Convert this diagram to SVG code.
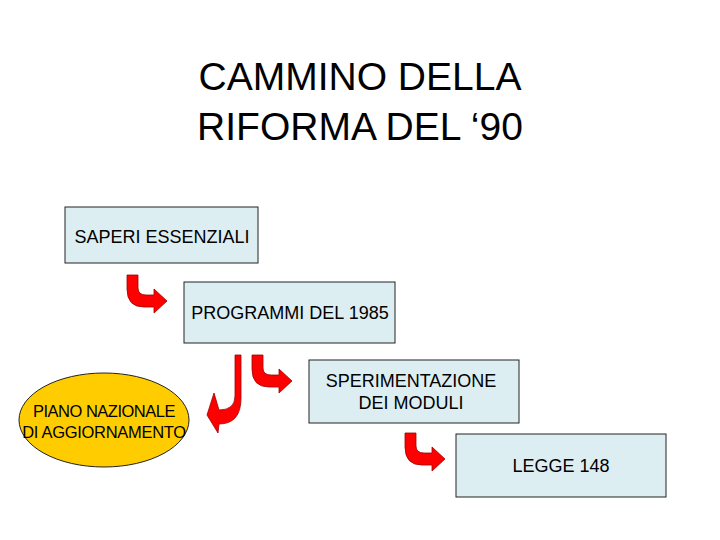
<svg xmlns="http://www.w3.org/2000/svg" width="720" height="540" viewBox="0 0 720 540">
<style>
.box{fill:#DDEEF2;stroke:#222;stroke-width:1}
.t{font-family:"Liberation Sans",Arial,sans-serif;fill:#000}
.bt{font-size:18px;text-anchor:middle}
.title{font-size:39px;text-anchor:middle}
.arr{fill:#FF0000;stroke:#A00000;stroke-width:0.8}
</style>
<defs>
<path id="bent" d="M0,0 H11 V13 Q11,20 19,20 H27 V14 L40,26 L27,38 V32 H17 Q0,32 0,14 Z"/>
</defs>
<rect width="720" height="540" fill="#fff"/>
<g id="title">
<text class="t title" x="360" y="90">CAMMINO DELLA</text>
<text class="t title" x="360" y="140">RIFORMA DEL ‘90</text>
</g>
<g id="saperi">
<rect class="box" x="65" y="207" width="193" height="56"/>
<text class="t bt" x="162" y="243">SAPERI ESSENZIALI</text>
</g>
<g id="programmi">
<rect class="box" x="184" y="282" width="211" height="61"/>
<text class="t bt" x="290" y="319">PROGRAMMI DEL 1985</text>
</g>
<g id="sperimentazione">
<rect class="box" x="309" y="360" width="210" height="63"/>
<text class="t bt" x="411" y="387">SPERIMENTAZIONE</text>
<text class="t bt" x="411" y="409">DEI MODULI</text>
</g>
<g id="legge">
<rect class="box" x="456" y="434" width="210" height="63"/>
<text class="t bt" x="561" y="472">LEGGE 148</text>
</g>
<g id="piano">
<ellipse cx="104" cy="420" rx="85" ry="47" fill="#FFCC00" stroke="#222" stroke-width="1"/>
<text class="t" x="104" y="417" font-size="16.5" text-anchor="middle" letter-spacing="-0.5">PIANO NAZIONALE</text>
<text class="t" x="104" y="438" font-size="16.5" text-anchor="middle" letter-spacing="-0.3">DI AGGIORNAMENTO</text>
</g>
<g id="connectors">
<use href="#bent" class="arr" x="127" y="275"/>
<use href="#bent" class="arr" x="252" y="355"/>
<use href="#bent" class="arr" x="405" y="433"/>
<path class="arr" d="M235,355 H241 V398 Q241,424 219,424 L218,433 L207,415 L214,393 L219,410 Q235,410 235,396 Z"/>
</g>
</svg>
